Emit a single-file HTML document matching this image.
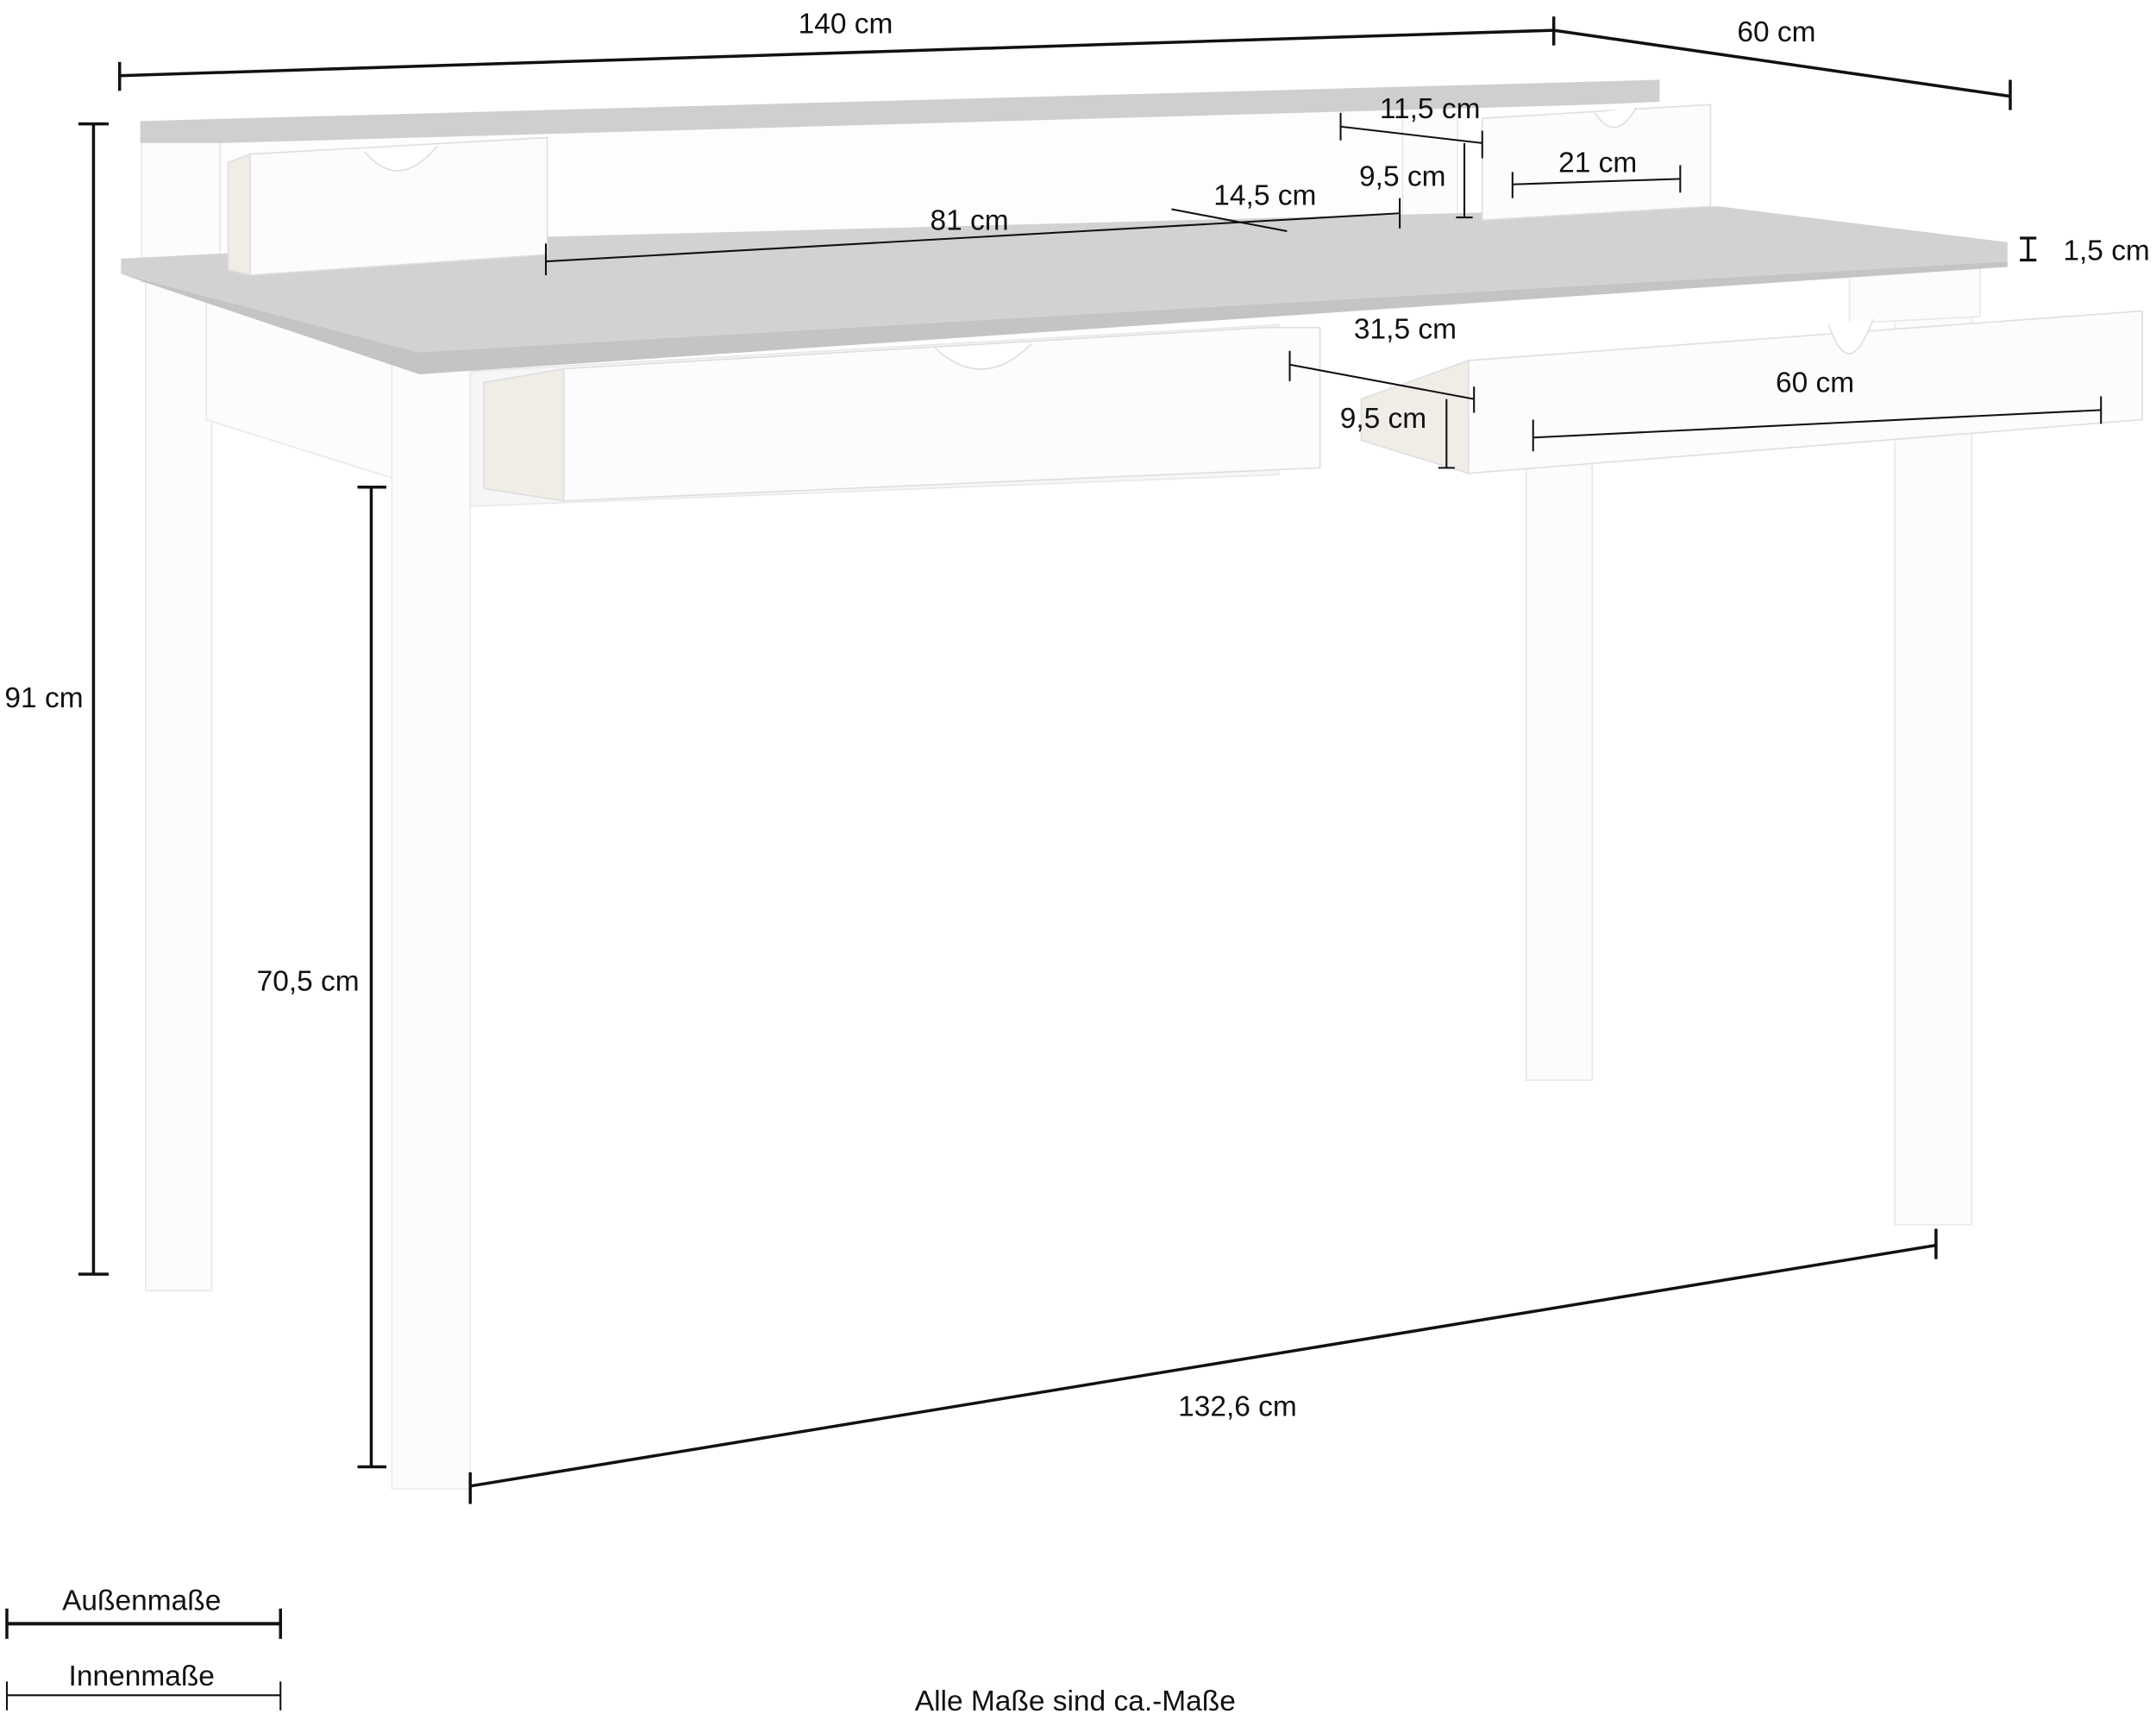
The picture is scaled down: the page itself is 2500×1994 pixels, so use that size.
<!DOCTYPE html>
<html><head><meta charset="utf-8"><style>
html,body{margin:0;padding:0;background:#fff;}
svg{display:block;}
text{font-family:"Liberation Sans Narrow","Liberation Sans",sans-serif;font-size:21px;fill:#111;text-anchor:middle;}
</style></head><body>
<svg width="2500" height="1994" viewBox="0 0 1568 1250" preserveAspectRatio="none" xmlns="http://www.w3.org/2000/svg">
<g stroke="#e8e8e8" stroke-width="1" fill="#fcfcfc">
<!-- back legs -->
<polygon points="106,200 154,200 154,938 106,938"/>
<polygon points="1378,190 1434,190 1434,890 1378,890"/>
<!-- right apron side -->
<polygon points="1345,195 1440,190 1440,230 1345,235"/>
<!-- right front leg -->
<polygon points="1110,330 1158,330 1158,785 1110,785"/>
<!-- left apron side -->
<polygon points="110,205 300,268 300,352 150,305 150,205"/>
<!-- front frame behind left drawer -->
<polygon points="342,270 930,236 930,345 342,368" fill="#f6f6f6"/>
<!-- left front leg -->
<polygon points="285,265 342,265 342,1082 285,1082"/>
<!-- hutch sides -->
<polygon points="103,100 160,100 160,205 103,205"/>
<polygon points="1020,70 1060,68 1060,160 1020,160"/>
<!-- hutch back -->
<polygon points="160,100 1020,78 1020,160 398,185 160,200" fill="#fdfdfd"/>
</g>
<!-- hutch top board -->
<polygon points="102,88 1207,58 1207,74 1160,76 160,104 102,104" fill="#cfcfcf"/>
<!-- desk top -->
<polygon points="88,188 400,172 1250,150 1460,176 1460,190 304,256 88,199" fill="#d2d2d2"/>
<polygon points="88,199 304,256 1460,190 1460,194 305,272 108,206" fill="#c4c4c4"/>
<g stroke="#dedede" stroke-width="1" fill="#fcfcfc">
<!-- left drawer -->
<polygon points="352,278 410,268 410,364 352,355" fill="#f0ede6"/>
<polygon points="410,268 920,238 960,238 960,340 410,364"/>
<path d="M680,253 Q715,285 750,250" fill="#fff" stroke="#ddd"/>
<!-- right drawer -->
<polygon points="990,290 1068,262 1068,344 990,320" fill="#f0ede6"/>
<polygon points="1068,262 1558,226 1558,305 1068,344"/>
<path d="M1330,236 Q1345,280 1362,232" fill="#fff" stroke="#ddd"/>
<!-- small drawers -->
<polygon points="166,118 182,112 182,200 166,196" fill="#f0ede6"/>
<polygon points="182,112 398,100 398,185 182,200"/>
<path d="M265,110 Q290,140 318,106" fill="#fff" stroke="#ddd"/>
<polygon points="1078,86 1244,76 1244,150 1078,160"/>
<path d="M1160,82 Q1175,105 1190,78" fill="#fff" stroke="#ddd"/>
</g>
<!-- dimension lines -->
<g stroke="#111" stroke-width="2.2" fill="none">
<line x1="87" y1="55" x2="1130" y2="22"/><line x1="87" y1="45" x2="87" y2="66"/><line x1="1130" y1="12" x2="1130" y2="33"/>
<line x1="1130" y1="22" x2="1462" y2="70"/><line x1="1462" y1="58" x2="1462" y2="80"/>
<line x1="68" y1="90" x2="68" y2="926"/><line x1="57" y1="90" x2="79" y2="90"/><line x1="57" y1="926" x2="79" y2="926"/>
<line x1="270" y1="354" x2="270" y2="1066"/><line x1="260" y1="354" x2="281" y2="354"/><line x1="260" y1="1066" x2="281" y2="1066"/>
<line x1="342" y1="1080" x2="1408" y2="905"/><line x1="342" y1="1070" x2="342" y2="1093"/><line x1="1408" y1="893" x2="1408" y2="915"/>
<line x1="5" y1="1180" x2="204" y2="1180" stroke-width="2.5"/><line x1="5" y1="1169" x2="5" y2="1191"/><line x1="204" y1="1169" x2="204" y2="1191"/>
</g>
<g stroke="#111" stroke-width="1.3" fill="none">
<line x1="5" y1="1232" x2="204" y2="1232"/><line x1="5" y1="1222" x2="5" y2="1243"/><line x1="204" y1="1222" x2="204" y2="1243"/>
<line x1="975" y1="92" x2="1078" y2="104"/><line x1="975" y1="82" x2="975" y2="102"/><line x1="1078" y1="95" x2="1078" y2="115"/>
<line x1="1065" y1="104" x2="1065" y2="158"/><line x1="1059" y1="158" x2="1071" y2="158"/>
<line x1="1100" y1="134" x2="1222" y2="130"/><line x1="1100" y1="125" x2="1100" y2="144"/><line x1="1222" y1="120" x2="1222" y2="140"/>
<line x1="397" y1="190" x2="1018" y2="155"/><line x1="397" y1="177" x2="397" y2="200"/><line x1="1018" y1="144" x2="1018" y2="166"/>
<line x1="852" y1="152" x2="936" y2="168"/>
<line x1="1475" y1="173" x2="1475" y2="189" stroke-width="2"/><line x1="1469" y1="173" x2="1481" y2="173" stroke-width="2"/><line x1="1469" y1="189" x2="1481" y2="189" stroke-width="2"/>
<line x1="938" y1="265" x2="1072" y2="290"/><line x1="938" y1="255" x2="938" y2="277"/><line x1="1072" y1="281" x2="1072" y2="300"/>
<line x1="1052" y1="290" x2="1052" y2="340"/><line x1="1046" y1="340" x2="1058" y2="340"/>
<line x1="1115" y1="318" x2="1528" y2="298"/><line x1="1115" y1="305" x2="1115" y2="328"/><line x1="1528" y1="288" x2="1528" y2="308"/>
</g>
<text x="615" y="24">140 cm</text>
<text x="1292" y="30">60 cm</text>
<text x="32" y="514">91 cm</text>
<text x="224" y="720">70,5 cm</text>
<text x="900" y="1029">132,6 cm</text>
<text x="1040" y="86">11,5 cm</text>
<text x="1020" y="135">9,5 cm</text>
<text x="1162" y="125">21 cm</text>
<text x="705" y="167">81 cm</text>
<text x="920" y="149">14,5 cm</text>
<text x="1532" y="189">1,5 cm</text>
<text x="1022" y="246">31,5 cm</text>
<text x="1006" y="311">9,5 cm</text>
<text x="1320" y="285">60 cm</text>
<text x="103" y="1170">Außenmaße</text>
<text x="103" y="1225">Innenmaße</text>
<text x="782" y="1243">Alle Maße sind ca.-Maße</text>
</svg>
</body></html>
